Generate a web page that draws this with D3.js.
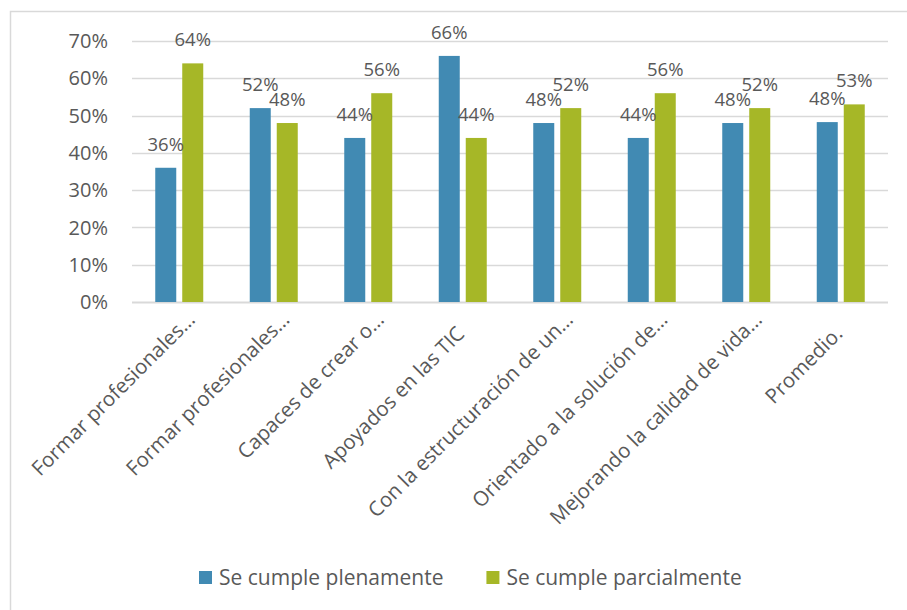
<!DOCTYPE html>
<html>
<head>
<meta charset="utf-8">
<script src="https://cdn.jsdelivr.net/npm/d3@7"></script>
<style>
    body { margin: 0; background: #fff; }
    svg text { font-family: "Open Sans", sans-serif; fill: #595959; }
</style>
</head>
<body>
<div id="chart"></div>
<script>
var categories = [
    "Formar profesionales…",
    "Formar profesionales…",
    "Capaces de crear o…",
    "Apoyados en las TIC",
    "Con la estructuración de un…",
    "Orientado a la solución de…",
    "Mejorando la calidad de vida…",
    "Promedio."
];
var seriesNames = ["Se cumple plenamente", "Se cumple parcialmente"];
var plenamente = [36, 52, 44, 66, 48, 44, 48, 48.25];
var parcialmente = [64, 48, 56, 44, 52, 56, 52, 53];
var yTicks = [0, 10, 20, 30, 40, 50, 60, 70];
var colors = ["#418ab3", "#a6b727"];

var width = 907, height = 610;
var margin = {top: 41, right: 19, bottom: 308, left: 132};

var svg = d3.select("#chart").append("svg")
    .attr("width", width)
    .attr("height", height);

// chart frame, runs past the right and bottom edges
svg.append("rect")
    .attr("x", 10.5).attr("y", 11.5)
    .attr("width", 1000).attr("height", 1000)
    .attr("fill", "none")
    .attr("stroke", "#d9d9d9")
    .attr("stroke-width", 1.5);

var x0 = d3.scaleBand()
    .domain(d3.range(categories.length))
    .range([margin.left, width - margin.right]);

var bw = x0.bandwidth();
var x1 = d3.scaleBand()
    .domain([0, 1])
    .range([bw / 2 - 24, bw / 2 + 24])
    .paddingInner(0.222);

var y = d3.scaleLinear()
    .domain([0, 70])
    .range([height - margin.bottom, margin.top]);

// gridlines
svg.append("g")
    .selectAll("line")
    .data(yTicks)
    .enter().append("line")
    .attr("x1", margin.left)
    .attr("x2", width - margin.right)
    .attr("y1", function (d) { return Math.round(y(d)) + 0.5; })
    .attr("y2", function (d) { return Math.round(y(d)) + 0.5; })
    .attr("stroke", "#d9d9d9")
    .attr("stroke-width", function (d) { return d === 0 ? 2 : 1.5; });

// y tick labels
svg.append("g")
    .selectAll("text")
    .data(yTicks)
    .enter().append("text")
    .attr("x", 108)
    .attr("y", function (d) { return y(d); })
    .attr("dy", "0.36em")
    .attr("text-anchor", "end")
    .style("font-size", "20px")
    .text(function (d) { return d + "%"; });

var rows = categories.map(function (c, i) {
    return [plenamente[i], parcialmente[i]];
});

var groups = svg.append("g")
    .selectAll("g")
    .data(rows)
    .enter().append("g")
    .attr("transform", function (d, i) { return "translate(" + x0(i) + ",0)"; });

groups.selectAll("rect")
    .data(function (d) { return d; })
    .enter().append("rect")
    .attr("x", function (d, j) { return x1(j); })
    .attr("y", function (d) { return y(d); })
    .attr("width", x1.bandwidth())
    .attr("height", function (d) { return y(0) - y(d); })
    .attr("fill", function (d, j) { return colors[j]; });

groups.selectAll("text")
    .data(function (d) { return d; })
    .enter().append("text")
    .attr("x", function (d, j) { return x1(j) + x1.bandwidth() / 2; })
    .attr("y", function (d) { return y(d) - 17; })
    .attr("text-anchor", "middle")
    .style("font-size", "18.5px")
    .text(function (d) { return Math.round(d) + "%"; });

// rotated category labels
svg.append("g")
    .selectAll("text")
    .data(categories)
    .enter().append("text")
    .attr("transform", function (d, i) {
        var cx = x0(i) + bw / 2;
        return "translate(" + (cx + 3) + "," + (y(0) + 33) + ") rotate(-45)";
    })
    .attr("x", function (d) { return d.slice(-1) === "…" ? 20 : 0; })
    .attr("text-anchor", "end")
    .style("font-size", "20.5px")
    .text(function (d) { return d; });

// legend
var legend = svg.append("g");
var lx = 199;
seriesNames.forEach(function (name, j) {
    legend.append("rect")
        .attr("x", lx).attr("y", 571)
        .attr("width", 13).attr("height", 13)
        .attr("fill", colors[j]);
    var t = legend.append("text")
        .attr("x", lx + 20)
        .attr("y", 585)
        .style("font-size", "21px")
        .text(name);
    lx = lx + 20 + t.node().getComputedTextLength() + 43;
});
</script>
</body>
</html>
